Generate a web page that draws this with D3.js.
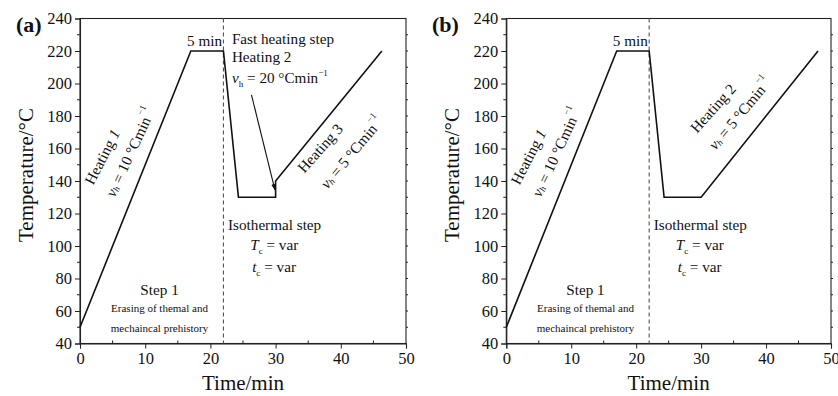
<!DOCTYPE html>
<html>
<head>
<meta charset="utf-8">
<script src="https://cdn.jsdelivr.net/npm/d3@7"></script>
<style>
  body { margin: 0; background: #fff; }
  svg text { font-family: "Liberation Serif", "DejaVu Serif", serif; fill: #111; }
</style>
</head>
<body>
<svg id="chart" width="838" height="396"></svg>
<script>
// temperature programs
const timeA = [0, 17, 22, 24.3, 30, 30, 46.3];
const tempA = [50, 220, 220, 130, 130, 140, 220];
const timeB = [0, 17, 22, 24.3, 30, 48];
const tempB = [50, 220, 220, 130, 130, 220];

const xTicks = [0, 10, 20, 30, 40, 50];
const yTicks = [40, 60, 80, 100, 120, 140, 160, 180, 200, 220, 240];
const dashTime = 22;

const svg = d3.select("#chart");
const plotTop = 18.5, plotBottom = 343.5;

const panels = [
  {id: "(a)", left: 80, right: 406, time: timeA, temp: tempA, labelX: 16},
  {id: "(b)", left: 506.3, right: 831, time: timeB, temp: tempB, labelX: 432}
];

// little helper for text with sub/superscripts
const richText = (sel, parts, size) => {
  parts.forEach(([t, s]) => {
    const ts = sel.append("tspan").text(t);
    if (s === "i") ts.attr("font-style", "italic");
    if (s === "sub" || s === "isub") {
      ts.attr("font-size", size * 0.6).attr("dy", size * 0.25);
      if (s === "isub") ts.attr("font-style", "italic");
    }
    if (s === "sup") ts.attr("font-size", size * 0.6).attr("dy", -size * 0.45);
    if (s === "back") ts.attr("dy", size * -0.25);
  });
  return sel;
};

svg.append("defs").append("marker")
    .attr("id", "arrow")
    .attr("viewBox", "0 0 10 10")
    .attr("refX", 9).attr("refY", 5)
    .attr("markerWidth", 6).attr("markerHeight", 6)
    .attr("orient", "auto")
  .append("path")
    .attr("d", "M0,1.5 L10,5 L0,8.5 Z")
    .attr("fill", "#111");

panels.forEach((p, i) => {
  const x = d3.scaleLinear().domain([0, 50]).range([p.left, p.right]);
  const y = d3.scaleLinear().domain([40, 240]).range([plotBottom, plotTop]);
  const g = svg.append("g");

  // frame
  g.append("rect")
      .attr("x", p.left).attr("y", plotTop)
      .attr("width", p.right - p.left).attr("height", plotBottom - plotTop)
      .attr("fill", "none").attr("stroke", "#222").attr("stroke-width", 1.1);

  // bottom axis
  const xAxis = g.append("g")
      .attr("transform", `translate(0,${plotBottom})`)
      .call(d3.axisBottom(x).tickValues(xTicks).tickSize(5).tickPadding(4).tickFormat(d3.format("d")));
  xAxis.selectAll("text").attr("font-size", 16.5).style("font-family", "Liberation Serif");
  g.selectAll(".xminor")
    .data(d3.range(5, 50, 10))
    .join("line")
      .attr("x1", (d) => x(d)).attr("x2", (d) => x(d))
      .attr("y1", plotBottom).attr("y2", plotBottom - 3)
      .attr("stroke", "#222");

  // left axis
  const yAxis = g.append("g")
      .attr("transform", `translate(${p.left},0)`)
      .call(d3.axisLeft(y).tickValues(yTicks).tickSize(5).tickPadding(3).tickFormat(d3.format("d")));
  yAxis.selectAll("text").attr("font-size", 16.5).style("font-family", "Liberation Serif");
  g.selectAll(".yminor")
    .data(d3.range(50, 240, 20))
    .join("line")
      .attr("x1", p.left).attr("x2", p.left - 3)
      .attr("y1", (d) => y(d)).attr("y2", (d) => y(d))
      .attr("stroke", "#222");
  [xAxis, yAxis].forEach((a) => {
    a.select(".domain").attr("stroke", "#222").attr("stroke-width", 1.1);
    a.selectAll(".tick line").attr("stroke", "#222");
  });

  // right axis small ticks
  g.selectAll(".rtick")
    .data(d3.range(50, 240, 10))
    .join("line")
      .attr("x1", p.right).attr("x2", p.right + 2)
      .attr("y1", (d) => y(d)).attr("y2", (d) => y(d))
      .attr("stroke", "#222");

  // titles
  g.append("text")
      .attr("x", (p.left + p.right) / 2)
      .attr("y", 390)
      .attr("text-anchor", "middle")
      .attr("font-size", 21)
      .text("Time/min");
  g.append("text")
      .attr("transform", `translate(${p.left - 47},175) rotate(-90)`)
      .attr("text-anchor", "middle")
      .attr("font-size", 21)
      .text("Temperature/°C");
  g.append("text")
      .attr("x", p.labelX).attr("y", 32)
      .attr("font-size", 22).attr("font-weight", "bold")
      .text(p.id);

  // dashed separator
  g.append("line")
      .attr("x1", x(dashTime)).attr("x2", x(dashTime))
      .attr("y1", plotTop).attr("y2", plotBottom)
      .attr("stroke", "#555").attr("stroke-width", 1.1)
      .attr("stroke-dasharray", "4,3");

  // temperature program
  const line = d3.line().x((d) => x(d[0])).y((d) => y(d[1]));
  g.append("path")
      .datum(d3.zip(p.time, p.temp))
      .attr("d", line)
      .attr("fill", "none")
      .attr("stroke", "#111")
      .attr("stroke-width", 1.6)
      .attr("stroke-linejoin", "miter");

  // annotations
  const fs = 15.2;
  g.append("text").attr("x", x(19.1)).attr("y", y(223.3))
      .attr("text-anchor", "middle").attr("font-size", fs).text("5 min");

  g.append("text").attr("x", x(22.7)).attr("y", y(109.8))
      .attr("font-size", fs).text("Isothermal step");
  richText(g.append("text").attr("x", x(26.1)).attr("y", y(97.5)).attr("font-size", fs),
      [["T", "i"], ["c", "sub"], [" = var", "back"]], fs);
  richText(g.append("text").attr("x", x(26.4)).attr("y", y(84)).attr("font-size", fs),
      [["t", "i"], ["c", "sub"], [" = var", "back"]], fs);

  g.append("text").attr("x", x(12.2)).attr("y", y(69.8))
      .attr("text-anchor", "middle").attr("font-size", fs).text("Step 1");
  g.append("text").attr("x", x(12.2)).attr("y", y(59.4))
      .attr("text-anchor", "middle").attr("font-size", 11).text("Erasing of themal and");
  g.append("text").attr("x", x(12.2)).attr("y", y(47.1))
      .attr("text-anchor", "middle").attr("font-size", 11).text("mechaincal prehistory");

  // rotated labels along heating 1
  g.append("text")
      .attr("transform", `translate(${x(3.3)},${y(155)}) rotate(-63)`)
      .attr("text-anchor", "middle").attr("dominant-baseline", "central")
      .attr("font-size", fs)
      .call((t) => richText(t, [["Heating ", ""], ["1", "i"]], fs));
  g.append("text")
      .attr("transform", `translate(${x(7.6)},${y(157.8)}) rotate(-65)`)
      .attr("text-anchor", "middle").attr("dominant-baseline", "central")
      .attr("font-size", fs)
      .call((t) => richText(t, [["v", "i"], ["h", "isub"], [" = 10 °Cmin", "back"], ["−1", "sup"]], fs));

  const rise = i === 0
    ? {name: "Heating ", num: "3", a: [36.8, 160.3], b: [41.6, 157.8]}
    : {name: "Heating ", num: "2", a: [31.8, 184.9], b: [35.9, 181.8]};
  g.append("text")
      .attr("transform", `translate(${x(rise.a[0])},${y(rise.a[1])}) rotate(-48)`)
      .attr("text-anchor", "middle").attr("dominant-baseline", "central")
      .attr("font-size", fs)
      .text(rise.name + rise.num);
  g.append("text")
      .attr("transform", `translate(${x(rise.b[0])},${y(rise.b[1])}) rotate(-50)`)
      .attr("text-anchor", "middle").attr("dominant-baseline", "central")
      .attr("font-size", fs)
      .call((t) => richText(t, [["v", "i"], ["h", "isub"], [" = 5 °Cmin", "back"], ["−1", "sup"]], fs));

  if (i === 0) {
    g.append("text").attr("x", x(23.3)).attr("y", y(224.3))
        .attr("font-size", fs).text("Fast heating step");
    g.append("text").attr("x", x(23.3)).attr("y", y(213.2))
        .attr("font-size", fs).text("Heating 2");
    richText(g.append("text").attr("x", x(23.3)).attr("y", y(200.3)).attr("font-size", fs),
        [["v", "i"], ["h", "sub"], [" = 20 °Cmin", "back"], ["−1", "sup"]], fs);
    g.append("line")
        .attr("x1", x(26.3)).attr("y1", y(193))
        .attr("x2", x(29.9)).attr("y2", y(134.5))
        .attr("stroke", "#111").attr("stroke-width", 1.1)
        .attr("marker-end", "url(#arrow)");
  }
});
</script>
</body>
</html>
